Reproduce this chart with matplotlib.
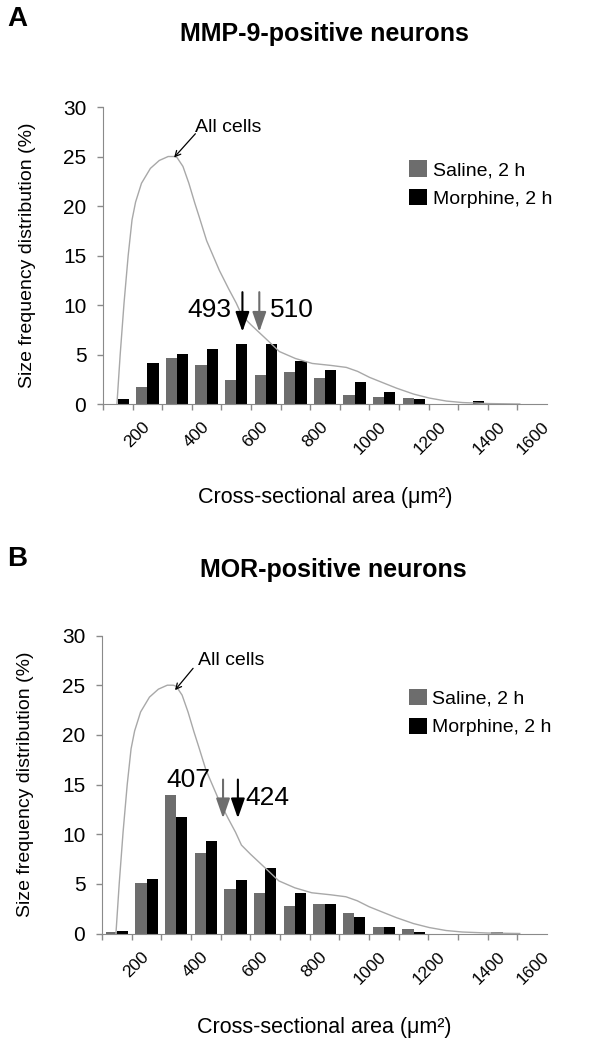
import numpy as np
import matplotlib
matplotlib.use("Agg")
import matplotlib.pyplot as plt

plt.rcParams['font.family'] = ['Liberation Sans', 'DejaVu Sans']

# size classes (um^2), one bar pair per class
categories = [100, 200, 300, 400, 500, 600, 700, 800, 900, 1000, 1100, 1200, 1300, 1400, 1500]
tick_pos = [200, 400, 600, 800, 1000, 1200, 1400, 1550]
tick_labels = ['200', '400', '600', '800', '1000', '1200', '1400', '1600']

mmp_saline = [0, 1.7, 4.65, 3.9, 2.45, 2.9, 3.2, 2.65, 0.9, 0.75, 0.6, 0, 0, 0, 0]
mmp_morphine = [0.5, 4.1, 5.05, 5.6, 6.1, 6.1, 4.3, 3.45, 2.25, 1.25, 0.5, 0, 0.3, 0, 0]
mor_saline = [0.15, 5.1, 13.9, 8.1, 4.45, 4.1, 2.75, 2.95, 2.1, 0.7, 0.45, 0, 0, 0.15, 0]
mor_morphine = [0.3, 5.5, 11.75, 9.3, 5.35, 6.6, 4.05, 2.95, 1.65, 0.7, 0.2, 0, 0, 0, 0]

# "All cells" size distribution curve
curve_x = [97, 108, 121, 135, 148, 160, 180, 210, 240, 270, 290, 300, 320, 340, 360, 375, 400,
           443, 475, 500, 520, 550, 600, 646, 700, 757, 820, 872, 910, 950, 1000, 1042, 1100,
           1153, 1210, 1265, 1350, 1458]
curve_y = [0, 5, 10.2, 15, 18.6, 20.4, 22.3, 23.8, 24.6, 25, 25, 24.9, 24.0, 22.3, 20.3, 18.9, 16.5,
           13.5, 11.6, 10.2, 8.9, 8.0, 6.6, 5.3, 4.6, 4.1, 3.9, 3.7, 3.3, 2.7, 2.1, 1.6, 1.0,
           0.6, 0.3, 0.15, 0.05, 0]

# mean sizes: (label, x, color)
mmp_means = [('493', 521, 'black'), ('510', 578, '#6d6d6d')]
mor_means = [('407', 458, '#6d6d6d'), ('424', 508, 'black')]

GRAY = '#6d6d6d'
AXC = '#8a8a8a'

fig = plt.figure(figsize=(6, 10.4), dpi=100)


def draw_panel(rect, saline, morphine, means, arrow_rng, texts, allcells, legend_y):
    ax = fig.add_axes(rect)
    x = np.array(categories)
    ax.bar(x - 19, saline, width=38, color=GRAY, label='Saline, 2 h')
    ax.bar(x + 19, morphine, width=38, color='black', label='Morphine, 2 h')
    ax.plot(curve_x, curve_y, color='#a8a8a8', lw=1)

    for lab, xm, col in means:
        ax.annotate('', xy=(xm, arrow_rng[1]), xytext=(xm, arrow_rng[0]),
                    arrowprops=dict(arrowstyle='-|>,head_length=0.8,head_width=0.28',
                                    color=col, lw=1.5, mutation_scale=15,
                                    shrinkA=0, shrinkB=0))
    for lab, tx, ty, ha in texts:
        ax.text(tx, ty, lab, fontsize=19, ha=ha, va='center')

    (tx, ty), (ax0, ay0), (ax1, ay1) = allcells
    ax.text(tx, ty, 'All cells', fontsize=14, ha='left', va='center')
    ax.annotate('', xy=(ax1, ay1), xytext=(ax0, ay0),
                arrowprops=dict(arrowstyle='->', color='black', lw=0.9, shrinkA=0, shrinkB=0))

    ax.set_yticks(range(0, 31, 5))
    ax.tick_params(axis='y', labelsize=15, direction='out', length=4, width=1,
                   color=AXC, pad=8)
    ax.set_xticks(tick_pos)
    ax.set_xticklabels(tick_labels, rotation=45, ha='right', va='center',
                       rotation_mode='anchor', fontsize=12.5)
    ax.set_xticks(np.arange(50, 1551, 100), minor=True)
    ax.tick_params(axis='x', which='major', length=0, pad=15)
    ax.tick_params(axis='x', which='minor', direction='out', length=4, width=1, color=AXC)
    ax.set_xlim(50, 1550)
    ax.set_ylim(0, 30)
    for s in ['top', 'right']:
        ax.spines[s].set_visible(False)
    for s in ['left', 'bottom']:
        ax.spines[s].set_color(AXC)
    ax.set_ylabel('Size frequency distribution (%)', fontsize=14)
    ax.yaxis.set_label_coords(-0.152, 0.5)
    ax.set_xlabel('Cross-sectional area (\u03bcm\u00b2)', fontsize=15.5)
    ax.xaxis.set_label_coords(0.5, -0.28)
    ax.legend(loc='upper left', bbox_to_anchor=(0.69, legend_y), frameon=False,
              fontsize=14, handlelength=0.9, handleheight=0.9, handletextpad=0.3,
              labelspacing=0.5, borderpad=0, borderaxespad=0)
    return ax


draw_panel([0.1717, 0.6115, 0.74, 0.2856], mmp_saline, mmp_morphine, mmp_means, (11.3, 7.3),
           [('493', 483, 9.5, 'right'), ('510', 615, 9.5, 'left')],
           ((361, 27.9), (362, 27.3), (290, 24.9)), 0.82)
draw_panel([0.17, 0.1024, 0.7417, 0.2865], mor_saline, mor_morphine, mor_means, (15.5, 11.6),
           [('407', 414, 15.5, 'right'), ('424', 532, 13.6, 'left')],
           ((373, 27.5), (357, 26.7), (296, 24.5)), 0.82)

fig.text(0.54, 1 - 34 / 1040, 'MMP-9-positive neurons', fontsize=18, fontweight='bold',
         ha='center', va='center')
fig.text(0.555, 1 - 570 / 1040, 'MOR-positive neurons', fontsize=18, fontweight='bold',
         ha='center', va='center')
fig.text(0.012, 1 - 19 / 1040, 'A', fontsize=20, fontweight='bold', ha='left', va='center')
fig.text(0.012, 1 - 559 / 1040, 'B', fontsize=20, fontweight='bold', ha='left', va='center')

fig.savefig('out.png', dpi=100)
